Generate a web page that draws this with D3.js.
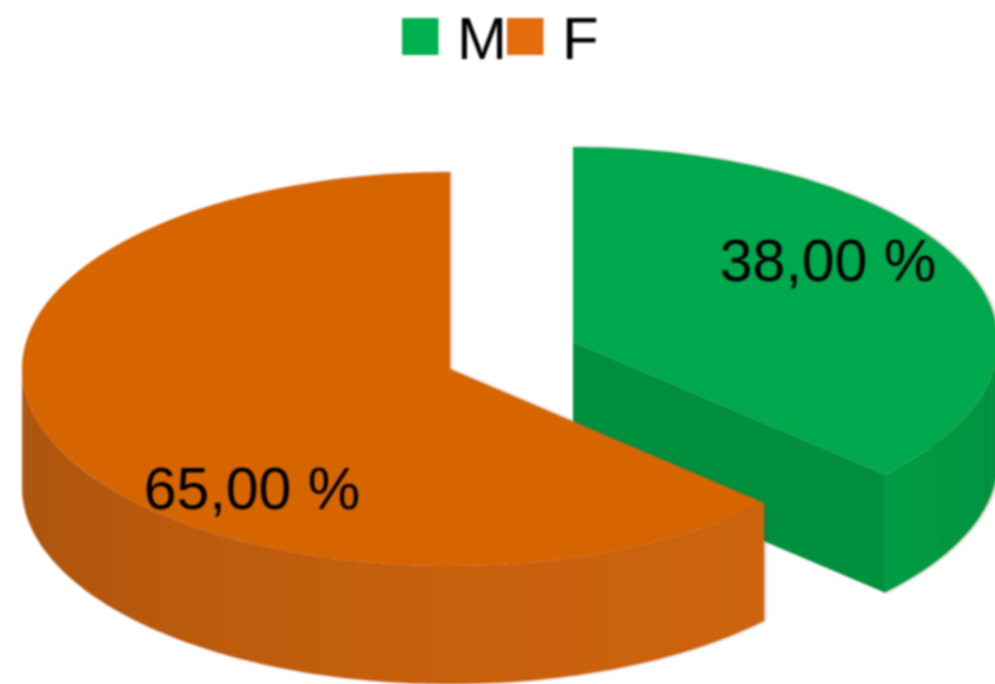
<!DOCTYPE html>
<html>
<head>
<meta charset="utf-8">
<script src="https://cdn.jsdelivr.net/npm/d3@7"></script>
<style>
html,body{margin:0;padding:0;background:#fff;overflow:hidden}
svg{display:block}
text{font-family:"Liberation Sans",Arial,sans-serif}
</style>
</head>
<body>
<svg id="c" width="995" height="684"></svg>
<script>
const categories = ["M", "F"];
const values = [38, 65];
const topColors = ["#00A84D", "#D66506"];
const legendColors = ["#00B050", "#E46C0A"];
const wallNear = ["#009C45", "#CD6307"];
const wallMid = ["#00973F", "#C96107"];
const wallFar = ["#008F3E", "#A85207"];

const radiiX = [425, 428], radiiY = [195, 197], depth = 118;
const centers = [[573, 342], [450, 369]];
const labelPos = [[828, 281], [252, 509]];
const bandStep = Math.PI / 36;

const svg = d3.select("#c");
const defs = svg.append("defs");
const soft = defs.append("filter").attr("id", "soft")
  .attr("x", "-5%").attr("y", "-5%").attr("width", "110%").attr("height", "110%");
soft.append("feGaussianBlur").attr("stdDeviation", 1.1);

const edged = defs.append("filter").attr("id", "edged")
  .attr("x", "-3%").attr("y", "-3%").attr("width", "106%").attr("height", "106%");
edged.append("feDropShadow")
  .attr("dx", 1.5).attr("dy", 0).attr("stdDeviation", 1.2)
  .attr("flood-color", "#5a4a3a").attr("flood-opacity", 0.4)
  .attr("result", "shadowed");
edged.append("feGaussianBlur").attr("in", "shadowed").attr("stdDeviation", 1.1);

const pie = d3.pie().sort(null).startAngle(0).endAngle(2 * Math.PI);
const arcs = pie(values);
const line = d3.line();

const slices = svg.append("g");
arcs.forEach((d, i) => {
  const c = centers[i], rx = radiiX[i], ry = radiiY[i];
  const px = a => c[0] + rx * Math.sin(a);
  const py = a => c[1] - ry * Math.cos(a);
  const arcGen = d3.arc().innerRadius(0).outerRadius(rx);
  const g = slices.append("g").attr("filter", "url(#edged)");
  const from = Math.max(d.startAngle, Math.PI / 2);
  const to = Math.min(d.endAngle, 3 * Math.PI / 2);
  const near = i === 0 ? to : from;
  const far = i === 0 ? from : to;
  const shade = d3.scaleLinear()
    .domain([near, near + (far - near) * 0.3, far])
    .range([wallNear[i], wallMid[i], wallFar[i]]);

  if (i === 0) {
    const a = d.endAngle;
    g.append("path")
      .attr("d", line([[c[0], c[1]], [px(a), py(a)], [px(a), py(a) + depth], [c[0], c[1] + depth]]) + "Z")
      .attr("fill", wallFar[0]);
  }

  const angles = d3.range(from, to, bandStep).concat([to]);
  d3.pairs(angles).forEach(([a0, a1]) => {
    const steps = d3.range(0, 7).map(k => a0 + (a1 - a0 + 0.003) * k / 6);
    const upper = steps.map(a => [px(a), py(a)]);
    const lower = steps.slice().reverse().map(a => [px(a), py(a) + depth]);
    g.append("path")
      .attr("d", line(upper.concat(lower)) + "Z")
      .attr("fill", shade((a0 + a1) / 2));
  });

  g.append("path")
    .attr("transform", `translate(${c[0]},${c[1]}) scale(1,${ry / rx})`)
    .attr("d", arcGen(d))
    .attr("fill", topColors[i]);
});

const fmt = v => v.toFixed(2).replace(".", ",") + " %";
svg.append("g").attr("filter", "url(#soft)")
  .selectAll("text").data(values).enter().append("text")
  .attr("x", (d, i) => labelPos[i][0])
  .attr("y", (d, i) => labelPos[i][1])
  .attr("text-anchor", "middle")
  .attr("font-size", 59)
  .attr("fill", "#000")
  .text(fmt);

const legendX = d3.scalePoint().domain(categories).range([402, 507]);
const legend = svg.append("g").attr("filter", "url(#soft)");
categories.forEach((name, i) => {
  legend.append("rect")
    .attr("x", legendX(name)).attr("y", 18)
    .attr("width", 36.5).attr("height", 37)
    .attr("fill", legendColors[i]);
  legend.append("text")
    .attr("x", legendX(name) + 55).attr("y", 59)
    .attr("font-size", 60).attr("fill", "#000")
    .text(name);
});
</script>
</body>
</html>
